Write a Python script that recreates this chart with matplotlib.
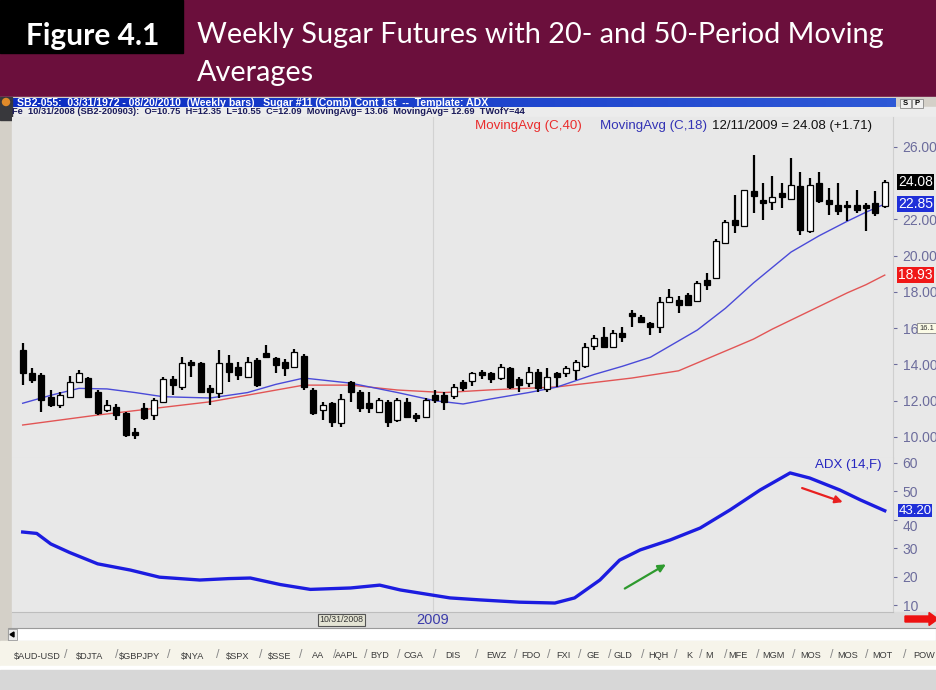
#!/usr/bin/env python3
# -*- coding: utf-8 -*-

"""
Figure 4.1 - Weekly Sugar Futures with 20- and 50-Period Moving Averages
Candlesticks, two moving averages and the ADX panel, drawn with matplotlib
"""

import matplotlib
matplotlib.use("Agg")
import matplotlib.pyplot as plt
from matplotlib.patches import Rectangle, Polygon, FancyArrow
from matplotlib.transforms import blended_transform_factory

W, H = 936, 690

# Weekly bars (Sugar #11), last bar = 12/11/2009
opens = [14.80, 13.51, 13.42, 12.22, 11.76, 12.18, 13.05, 13.24, 12.50, 11.48,
         11.67, 11.30, 10.29, 11.58, 11.21, 11.95, 13.18, 12.77, 14.15, 14.06,
         12.68, 12.40, 14.06, 13.88, 13.33, 14.25, 14.61, 14.38, 14.15, 13.88,
         14.47, 12.59, 11.48, 11.85, 10.75, 13.05, 12.50, 11.85, 11.39, 11.95,
         10.93, 11.95, 11.21, 11.12, 12.31, 12.31, 12.27, 13.05, 13.10, 13.60,
         13.55, 13.24, 13.83, 13.18, 12.96, 13.60, 12.65, 13.55, 13.51, 13.69,
         13.92, 15.02, 15.53, 14.98, 15.72, 16.82, 16.63, 16.31, 16.04, 17.46,
         17.57, 17.85, 17.48, 18.67, 18.77, 20.70, 21.98, 21.66, 23.55, 23.09,
         22.94, 23.45, 23.12, 23.82, 21.34, 24.00, 23.09, 22.81, 22.81, 22.81,
         22.81, 22.90, 22.72]
highs = [15.17, 13.79, 13.51, 12.59, 12.50, 13.36, 13.69, 13.33, 12.59, 12.04,
         11.81, 11.39, 10.47, 11.85, 12.13, 13.33, 13.36, 14.43, 14.25, 14.15,
         12.87, 14.80, 14.52, 14.15, 14.43, 14.34, 15.07, 14.43, 14.29, 14.83,
         14.56, 12.68, 11.95, 11.95, 12.35, 13.10, 12.59, 12.50, 12.13, 12.04,
         12.13, 12.13, 11.30, 12.13, 12.59, 12.50, 12.92, 13.14, 13.60, 13.69,
         13.60, 14.01, 13.88, 13.33, 13.84, 13.73, 13.79, 13.60, 13.92, 14.25,
         15.20, 15.62, 16.04, 15.90, 16.04, 17.00, 16.73, 16.36, 17.74, 18.15,
         17.76, 17.94, 18.58, 19.04, 20.91, 21.98, 23.36, 23.64, 25.56, 24.00,
         24.37, 24.00, 25.38, 24.64, 24.28, 24.64, 23.73, 24.00, 23.00, 23.64,
         22.90, 23.55, 24.19]
lows = [12.87, 12.96, 11.40, 11.67, 11.58, 12.13, 12.96, 12.13, 11.21, 11.39,
        10.93, 10.01, 9.87, 10.93, 10.93, 11.95, 12.31, 12.59, 13.33, 12.40,
        11.76, 12.13, 13.05, 13.14, 13.24, 12.77, 14.34, 13.51, 13.37, 13.79,
        12.59, 11.21, 10.93, 10.56, 10.55, 11.95, 11.39, 11.30, 11.30, 10.56,
        10.84, 11.02, 10.84, 11.02, 11.89, 11.48, 12.10, 12.55, 12.81, 13.18,
        13.00, 13.14, 12.66, 12.50, 12.77, 12.50, 12.50, 12.77, 13.33, 13.14,
        13.79, 14.80, 14.89, 14.94, 15.25, 16.04, 16.27, 15.62, 15.75, 17.40,
        16.84, 17.21, 17.44, 18.12, 18.71, 20.66, 21.25, 21.58, 22.35, 21.98,
        22.54, 22.63, 23.09, 21.15, 21.25, 22.90, 22.26, 22.26, 21.89, 22.35,
        21.34, 22.17, 22.63]
closes = [13.51, 13.14, 12.04, 11.76, 12.31, 13.05, 13.51, 12.22, 11.30, 11.76,
          11.21, 10.10, 10.10, 11.02, 12.04, 13.18, 12.87, 14.06, 13.97, 12.50,
          12.50, 14.06, 13.60, 13.42, 14.15, 12.87, 14.39, 13.97, 13.79, 14.70,
          12.77, 11.30, 11.76, 10.84, 12.09, 12.50, 11.58, 11.58, 12.04, 10.84,
          12.04, 11.12, 11.02, 12.04, 12.04, 11.95, 12.77, 12.68, 13.55, 13.42,
          13.18, 13.88, 12.77, 12.87, 13.60, 12.68, 13.33, 13.33, 13.79, 14.15,
          14.98, 15.44, 14.94, 15.72, 15.53, 16.67, 16.36, 16.04, 17.46, 17.74,
          17.30, 17.30, 18.49, 18.40, 20.79, 21.84, 21.71, 23.60, 23.27, 22.90,
          23.23, 23.23, 23.91, 21.43, 23.91, 23.00, 22.87, 22.44, 22.68, 22.54,
          22.63, 22.37, 24.08]

# MovingAvg (C,18) - blue, read at some bar positions
ma18_idx = [0, 3, 6, 9, 12, 15, 20, 24, 27, 30, 35, 40, 44, 47, 50, 54, 57,
            61, 64, 67, 70, 72, 75, 78, 82, 85, 88, 90, 92]
ma18_val = [11.86, 12.30, 12.68, 12.65, 12.45, 12.22, 12.15, 12.45, 12.90,
            13.25, 12.97, 12.45, 12.00, 11.82, 12.10, 12.45, 12.75, 13.45,
            13.90, 14.40, 15.30, 15.90, 17.10, 18.50, 20.20, 21.10, 21.90,
            22.40, 22.85]

# MovingAvg (C,40) - red
ma40_idx = [0, 8, 20, 30, 35, 40, 45, 50, 57, 65, 70, 76, 78, 80, 82, 85,
            88, 90, 92]
ma40_val = [10.66, 11.21, 11.94, 12.86, 12.86, 12.59, 12.45, 12.60, 12.76,
            13.25, 13.65, 14.96, 15.40, 15.95, 16.45, 17.20, 17.95, 18.40,
            18.93]

# ADX (14,F)
adx_idx = [0, 1.5, 3, 5, 8, 11.5, 14.6, 18.9, 22, 24.3, 27.5, 30.7, 35, 38.1,
           40.3, 45.6, 48.8, 53, 56.8, 58.9, 61.6, 63.7, 65.9, 69.1, 72.3,
           75.5, 78.7, 81.9, 84, 87.2, 89.4, 92]
adx_val = [35.7, 35.2, 31.5, 28.5, 24.5, 22.3, 19.8, 18.8, 19.3, 19.5, 17.2,
           15.5, 16.0, 17.0, 15.3, 12.5, 11.8, 11.0, 10.7, 12.5, 18.8, 25.8,
           29.4, 32.9, 37.1, 43.5, 50.5, 56.5, 54.7, 50.5, 47.0, 43.2]

price_ticks = [10, 12, 14, 16, 18, 20, 22, 26]
adx_ticks = [10, 20, 30, 40, 50, 60]
year_pos = 43.8   # first week of 2009
cursor_pos = 34   # 10/31/2008

tabs = ["$AUD-USD", "$DJTA", "$GBPJPY", "$NYA", "$SPX", "$SSE", "AA", "AAPL",
        "BYD", "CGA", "DIS", "EWZ", "FDO", "FXI", "GE", "GLD", "HQH", "K",
        "M", "MFE", "MGM", "MOS", "MOS", "MOT", "POW"]
tab_x = [37, 90, 140, 193, 238, 280, 318, 347, 380, 413, 453, 496, 531, 563,
         593, 623, 658, 689, 709, 738, 773, 811, 848, 882, 924]

ARIAL = "Liberation Sans"
BG = "#e8e8e8"


def rect(x0, y0, x1, y1):
    # pixel box -> figure fraction
    return [x0 / W, 1 - y1 / H, (x1 - x0) / W, (y1 - y0) / H]


def px(x, y):
    return x / W, 1 - y / H


fig = plt.figure(figsize=(W / 100, H / 100), dpi=100)
fig.patch.set_facecolor("white")

# background layer in pixel coordinates
bg = fig.add_axes([0, 0, 1, 1], zorder=0)
bg.set_xlim(0, W)
bg.set_ylim(H, 0)
bg.axis("off")

# header
bg.add_patch(Rectangle((0, 0), W, 96, color="#6b0f3c"))
bg.add_patch(Rectangle((0, 0), 183, 53, color="black"))
# screenshot frame
bg.add_patch(Rectangle((0, 97), W, 572, color="#d4d0c8"))
# caption bar with a gradient
grad = [[i / 100 for i in range(101)]]
bg.imshow(grad, extent=(12, 896, 107, 98), aspect="auto",
          cmap=matplotlib.colors.LinearSegmentedColormap.from_list(
              "cap", ["#0b2cc2", "#2d58d6"]), zorder=2)
bg.add_patch(Rectangle((0, 97), 12, 23, color="#38383c", zorder=2))
bg.add_patch(plt.Circle((6, 102), 3.5, color="#e08a2a", zorder=3))
# S | P buttons
for bx, letter in [(900, "S"), (912, "P")]:
    bg.add_patch(Rectangle((bx, 99), 11, 9, facecolor="#f0f0f0",
                           edgecolor="#888888", lw=0.6, zorder=2))
    bg.text(bx + 5.5, 103.5, letter, fontsize=5.5, fontweight="bold",
            ha="center", va="center", family=ARIAL, zorder=3)
# info line strip, plot background and right scale area
bg.add_patch(Rectangle((12, 107), W - 12, 10, color="#ececec", zorder=1))
bg.add_patch(Rectangle((12, 117), W - 12, 495, color=BG, zorder=1))
bg.add_patch(Rectangle((12, 612), W - 12, 16, color="#dcdcdc", zorder=1))
# scrollbar
bg.add_patch(Rectangle((8, 628), W - 8, 13, facecolor="white",
                       edgecolor="#9a9a9a", lw=0.8, zorder=1))
bg.add_patch(Rectangle((8, 629), 9, 11, facecolor="#ececec",
                       edgecolor="#9a9a9a", lw=0.6, zorder=2))
bg.add_patch(Polygon([(10, 634.5), (14, 632), (14, 637)], color="black", zorder=3))
# tab strip and bottom band
bg.add_patch(Rectangle((0, 641), W, 25, color="#f6f4ea", zorder=1))
bg.add_patch(Rectangle((0, 666), W, 4, color="white", zorder=1))
bg.add_patch(Rectangle((0, 670), W, 20, color="#d7d7d7", zorder=1))
# red arrow bottom right
bg.add_patch(FancyArrow(905, 619, 24, 0, width=6, head_width=13,
                        head_length=9, color="#ee1111", zorder=3))

# ---- price panel ----
x = list(range(len(closes)))
ax = fig.add_axes(rect(12, 117, 893, 458), zorder=1)
ax.set_facecolor(BG)
ax.set_xlim(-1.14, 92.88)
ax.set_ylim(8.84, 27.65)

# candlesticks
ax.vlines(x, lows, highs, color="black", lw=1.6, zorder=3)
for i in x:
    o, c = opens[i], closes[i]
    body = max(abs(c - o), 0.06)
    up = c >= o
    ax.bar(i, body, bottom=min(o, c), width=0.64,
           color="white" if up else "black", edgecolor="black",
           linewidth=0.9, zorder=4)

ax.plot(ma40_idx, ma40_val, color="#e25555", lw=1.0, zorder=2)
ax.plot(ma18_idx, ma18_val, color="#4a4ad8", lw=1.0, zorder=2)
ax.axvline(year_pos, color="#d2d2d2", lw=0.8, zorder=1)

ax.yaxis.tick_right()
ax.set_yticks(price_ticks)
ax.set_yticklabels(["16" if t == 16 else "%.2f" % t for t in price_ticks])
ax.tick_params(axis="y", length=3, pad=4, labelsize=10, colors="#6c6c9c")
ax.set_xticks([])
for s in ax.spines.values():
    s.set_visible(False)
ax.spines["right"].set_visible(True)
ax.spines["right"].set_color("#cfcfcf")
ax.spines["bottom"].set_visible(True)
ax.spines["bottom"].set_color("#d6d6d6")
for lab in ax.get_yticklabels():
    lab.set_family(ARIAL)

# price tags on the right scale
tr = blended_transform_factory(ax.transAxes, ax.transData)
for val, fc in [(closes[-1], "black"), (ma18_val[-1], "#1f2fd8"), (ma40_val[-1], "#f01818")]:
    ax.text(1.006, val, "%.2f" % val, transform=tr, color="white", fontsize=10,
            family=ARIAL, va="center", ha="left", clip_on=False, zorder=6,
            bbox=dict(facecolor=fc, edgecolor="none", pad=0.6))
ax.text(1.0295, 16.0, "16.1", transform=tr, color="#333333", fontsize=5.5,
        family=ARIAL, va="center", ha="left", clip_on=False, zorder=6,
        bbox=dict(facecolor="#fbfbe6", edgecolor="#888888", lw=0.6, pad=1.2))

# ---- ADX panel ----
ax2 = fig.add_axes(rect(12, 458, 893, 612), zorder=1)
ax2.set_facecolor(BG)
ax2.set_xlim(-1.14, 92.88)
ax2.set_ylim(7.54, 61.76)
ax2.plot(adx_idx, adx_val, color="#1c1ce0", lw=2.4, zorder=3)
ax2.axvline(year_pos, color="#d2d2d2", lw=0.8, zorder=1)
ax2.yaxis.tick_right()
ax2.set_yticks(adx_ticks)
ax2.tick_params(axis="y", length=3, pad=4, labelsize=10, colors="#6c6c9c")
ax2.set_xticks([year_pos])
ax2.set_xticklabels(["2009"])
ax2.tick_params(axis="x", length=0, pad=1, labelsize=10.5, colors="#3c3caa")
for lab in ax2.get_yticklabels() + ax2.get_xticklabels():
    lab.set_family(ARIAL)
# the "40" label sits just under the ADX tag, as in the platform
for lab in ax2.get_yticklabels():
    if lab.get_text() == "40":
        lab.set_va("top")
for s in ax2.spines.values():
    s.set_visible(False)
ax2.spines["right"].set_visible(True)
ax2.spines["right"].set_color("#cfcfcf")
ax2.spines["bottom"].set_visible(True)
ax2.spines["bottom"].set_color("#bdbdbd")

tr2 = blended_transform_factory(ax2.transAxes, ax2.transData)
ax2.text(1.006, adx_val[-1], "%.2f" % adx_val[-1], transform=tr2, color="white",
         fontsize=9.5, family=ARIAL, va="center", ha="left", clip_on=False, zorder=6,
         bbox=dict(facecolor="#1f2fd8", edgecolor="none", pad=0.4))
ax2.text(0.911, 0.955, "ADX (14,F)", transform=ax2.transAxes, color="#2525c0",
         fontsize=9.5, family=ARIAL, va="center", ha="left")
# trend arrows
ax2.annotate("", xy=(68.9, 24.8), xytext=(64, 15.3),
             arrowprops=dict(arrowstyle="-|>", color="#2e9a2e", lw=1.6, mutation_scale=11))
ax2.annotate("", xy=(87.8, 45.9), xytext=(82.9, 51.5),
             arrowprops=dict(arrowstyle="-|>", color="#e82020", lw=1.6, mutation_scale=11))

# ---- texts on top ----
fig.text(*px(26, 36), "Figure 4.1", color="white", fontsize=21.5, fontweight="bold",
         family="Lato", va="center", ha="left")
fig.text(*px(197, 35), "Weekly Sugar Futures with 20- and 50-Period Moving",
         color="white", fontsize=20.8, family="Lato", va="center", ha="left")
fig.text(*px(197, 73), "Averages", color="white", fontsize=20.8, family="Lato",
         va="center", ha="left")

fig.text(*px(17, 102.5),
         "SB2-055:  03/31/1972 - 08/20/2010  (Weekly bars)   Sugar #11 (Comb) Cont 1st  --  Template: ADX",
         color="white", fontsize=7.6, fontweight="bold", family=ARIAL, va="center")
fig.text(*px(12, 112),
         "Fe  10/31/2008 (SB2-200903):  O=10.75  H=12.35  L=10.55  C=12.09  "
         "MovingAvg= 13.06  MovingAvg= 12.69  TWofY=44",
         color="#1a1a5a", fontsize=6.7, fontweight="bold", family=ARIAL, va="center")

fig.text(*px(475, 126), "MovingAvg (C,40)", color="#ea2d2d", fontsize=9.6,
         family=ARIAL, va="center")
fig.text(*px(600, 126), "MovingAvg (C,18)", color="#3333b5", fontsize=9.6,
         family=ARIAL, va="center")
fig.text(*px(712, 126), "12/11/2009 = 24.08 (+1.71)", color="#111111", fontsize=9.5,
         family=ARIAL, va="center")

# cursor date box under the chart
cx = 12 + (cursor_pos + 1.14) / 94.02 * 881
fig.text(*px(cx, 620), "10/31/2008", color="#333333", fontsize=6.3, family=ARIAL,
         va="center", ha="center",
         bbox=dict(facecolor="#e4e4d4", edgecolor="#555555", lw=0.8, pad=1.2))

# symbol tabs
for name, tx in zip(tabs, tab_x):
    fig.text(*px(tx, 656), name, color="#3a3a3a", fontsize=6.6, family=ARIAL,
             va="center", ha="center")
for a, b in zip(tab_x[:-1], tab_x[1:]):
    fig.text(*px((a + b) / 2 + 2, 655), "/", color="#8a8a8a", fontsize=9,
             family=ARIAL, va="center", ha="center")

fig.savefig("out.png", dpi=100)
